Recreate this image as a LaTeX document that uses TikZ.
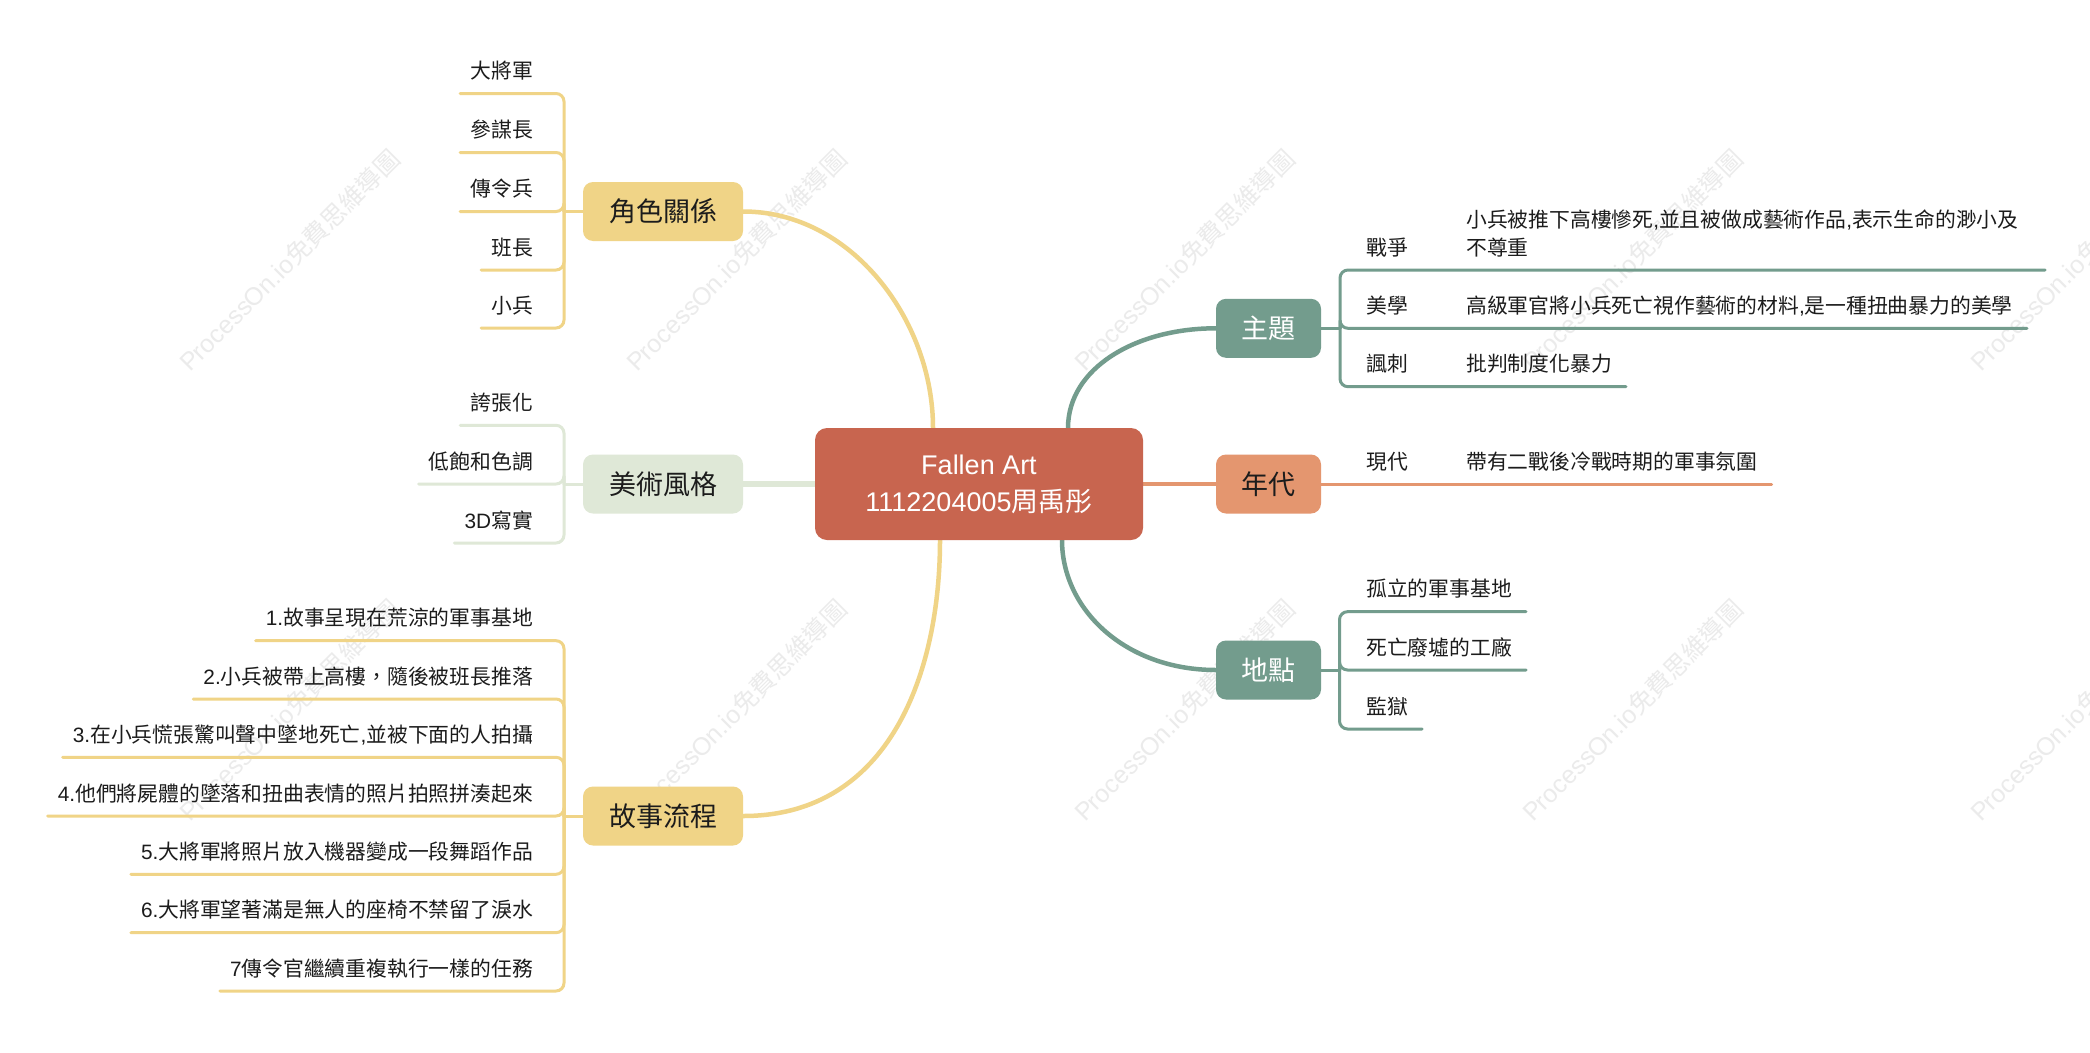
\documentclass[tikz,border=0pt]{standalone}
\usepackage{fontspec}
\setmainfont{Noto Sans CJK TC}
\newfontfamily\lt{Liberation Sans}
\usetikzlibrary{backgrounds}
\definecolor{cCenter}{HTML}{C8654F}
\definecolor{cYellow}{HTML}{F0D487}
\definecolor{cGreen}{HTML}{DFE8D7}
\definecolor{cTeal}{HTML}{739C8D}
\definecolor{cOrange}{HTML}{E4966F}
\definecolor{cText}{HTML}{1C1C1C}
\definecolor{cMark}{HTML}{EBEBEB}
\tikzset{
  branch/.style={rounded corners=10pt, minimum height=59pt, inner sep=0pt,
    font=\fontsize{27}{32}\selectfont, text height=21.6pt, text depth=1.6pt},
  lbranch/.style={branch, minimum width=160pt},
  rbranch/.style={branch, minimum width=105pt},
  item/.style={inner sep=0pt, font=\fontsize{20.8}{27.4}\selectfont, text=cText},
  mainline/.style={line width=4.5pt},
  subline/.style={line width=3pt, rounded corners=8pt, line cap=round},
  wmark/.style={anchor=base west, rotate=45, inner sep=0pt, text=cMark,
    font=\fontsize{25}{30}\selectfont}
}
\newcommand\litem[5]{% name, underline y, hub, colour, text
  \node[item, anchor=base east] (#1) at (533,#2-15) {#5};
  \coordinate (#1-u) at ([shift={(-10,15)}]#1.base west);
  \begin{scope}[on background layer]
    \draw[subline, #4] (#3) |- (#1-u);
  \end{scope}
}
\newcommand\ritem[6]{% name, underline y, hub, colour, label, content
  \node[item, anchor=base west] (#1) at (1366,#2-15) {#5};
  \node[item, anchor=base west] (#1-t) at (1466,#2-15) {#6};
  \coordinate (#1-u) at ([shift={(14,15)}]#1-t.base east);
  \begin{scope}[on background layer]
    \draw[subline, #4] (#3) |- (#1-u);
  \end{scope}
}
\newcommand\rlabel[5]{% name, underline y, hub, colour, label
  \node[item, anchor=base west] (#1) at (1366,#2-15) {#5};
  \coordinate (#1-u) at ([shift={(14,15)}]#1.base east);
  \begin{scope}[on background layer]
    \draw[subline, #4] (#3) |- (#1-u);
  \end{scope}
}
\begin{document}
\begin{tikzpicture}[x=1pt,y=-1pt]
\useasboundingbox (0,0) rectangle (2090,1052);
\begin{scope}[on background layer]
\fill[white] (0,0) rectangle (2090,1052);
% watermarks
\foreach \wx in {190,637,1085,1533,1981}{
  \foreach \wy in {373,823}{
    \node[wmark] (wm-\wx-\wy) at (\wx,\wy) {{\lt ProcessOn.io}免費思維導圖};
  }
}
\end{scope}

% centre
\node[fill=cCenter, rounded corners=12pt, minimum width=328pt, minimum height=112pt,
  inner sep=0pt, text=white, align=center, font=\fontsize{27}{37}\selectfont]
  (c) at (979,484) {{\lt Fallen Art}\\{\lt 1112204005}周禹彤};
\coordinate (c-a) at (933,428);
\coordinate (c-b) at (940,540);
\coordinate (c-c) at (1068,428);
\coordinate (c-d) at (1062,540);

% main branches
\node[lbranch, fill=cYellow, text=cText] (js) at (663,211.5) {角色關係};
\node[lbranch, fill=cGreen, text=cText] (ms) at (663,484) {美術風格};
\node[lbranch, fill=cYellow, text=cText] (gs) at (663,816) {故事流程};
\node[rbranch, fill=cTeal, text=white] (zt) at (1268.5,328.3) {主題};
\node[rbranch, fill=cOrange, text=cText] (nd) at (1268.5,484) {年代};
\node[rbranch, fill=cTeal, text=white] (dd) at (1268.5,670) {地點};

\begin{scope}[on background layer]
\draw[mainline, cYellow] (js.east) .. controls +(108,0) and +(0,-108) .. (c-a);
\draw[mainline, cYellow] (gs.east) .. controls +(148,0) and +(0,130) .. (c-b);
\draw[line width=5.5pt, cGreen] (ms.east) -- (c.west);
\draw[mainline, cTeal] (c-c) .. controls +(0,-60) and +(-80,0) .. (zt.west);
\draw[mainline, cOrange] (c.east) -- (nd.west);
\draw[mainline, cTeal] (c-d) .. controls +(0,70) and +(-90,0) .. (dd.west);
\end{scope}

% hubs
\coordinate (h-js) at (564,211.5);
\coordinate (h-ms) at (564,484);
\coordinate (h-gs) at (564,816);
\coordinate (h-zt) at (1340,328.3);
\coordinate (h-dd) at (1339.5,670);
\begin{scope}[on background layer]
\draw[subline, cYellow] (js.west) -- (h-js);
\draw[subline, cGreen] (ms.west) -- (h-ms);
\draw[subline, cYellow] (gs.west) -- (h-gs);
\draw[subline, cTeal] (zt.east) -- (h-zt);
\draw[subline, cTeal] (dd.east) -- (h-dd);
\end{scope}

% 角色關係
\litem{ja}{93.5}{h-js}{cYellow}{大將軍}
\litem{jb}{152.5}{h-js}{cYellow}{參謀長}
\litem{jc}{211.5}{h-js}{cYellow}{傳令兵}
\litem{jd}{270}{h-js}{cYellow}{班長}
\litem{je}{328}{h-js}{cYellow}{小兵}

% 美術風格
\litem{ma}{425.3}{h-ms}{cGreen}{誇張化}
\litem{mb}{484}{h-ms}{cGreen}{低飽和色調}
\litem{mc}{543}{h-ms}{cGreen}{{\lt 3D}寫實}

% 故事流程
\litem{ga}{640.7}{h-gs}{cYellow}{{\lt 1.}故事呈現在荒涼的軍事基地}
\litem{gb}{699}{h-gs}{cYellow}{{\lt 2.}小兵被帶上高樓，隨後被班長推落}
\litem{gc}{757.3}{h-gs}{cYellow}{{\lt 3.}在小兵慌張驚叫聲中墜地死亡{\lt ,}並被下面的人拍攝}
\litem{gd}{816}{h-gs}{cYellow}{{\lt 4.}他們將屍體的墜落和扭曲表情的照片拍照拼湊起來}
\litem{ge}{874.3}{h-gs}{cYellow}{{\lt 5.}大將軍將照片放入機器變成一段舞蹈作品}
\litem{gf}{932.7}{h-gs}{cYellow}{{\lt 6.}大將軍望著滿是無人的座椅不禁留了淚水}
\litem{gg}{991}{h-gs}{cYellow}{{\lt 7}傳令官繼續重複執行一樣的任務}

% 主題
\node[item, anchor=base west] (za) at (1366,255) {戰爭};
\node[item, anchor=base west] (za-t) at (1466,227.6) {小兵被推下高樓慘死{\lt ,}並且被做成藝術作品{\lt ,}表示生命的渺小及};
\node[item, anchor=base west] (za-t2) at (1466,255) {不尊重};
\coordinate (za-u) at ([shift={(579,15)}]za-t2.base west);
\begin{scope}[on background layer]
\draw[subline, cTeal] (h-zt) |- (za-u);
\end{scope}
\ritem{zb}{328.3}{h-zt}{cTeal}{美學}{高級軍官將小兵死亡視作藝術的材料{\lt ,}是一種扭曲暴力的美學}
\ritem{zc}{386.7}{h-zt}{cTeal}{諷刺}{批判制度化暴力}

% 年代
\node[item, anchor=base west] (na) at (1366,469) {現代};
\node[item, anchor=base west] (na-t) at (1466,469) {帶有二戰後冷戰時期的軍事氛圍};
\coordinate (na-u) at ([shift={(14,15)}]na-t.base east);
\begin{scope}[on background layer]
\draw[subline, cOrange] (nd.east) -- (na-u);
\end{scope}

% 地點
\rlabel{da}{611.7}{h-dd}{cTeal}{孤立的軍事基地}
\rlabel{db}{670}{h-dd}{cTeal}{死亡廢墟的工廠}
\rlabel{dc}{729}{h-dd}{cTeal}{監獄}
\end{tikzpicture}
\end{document}
